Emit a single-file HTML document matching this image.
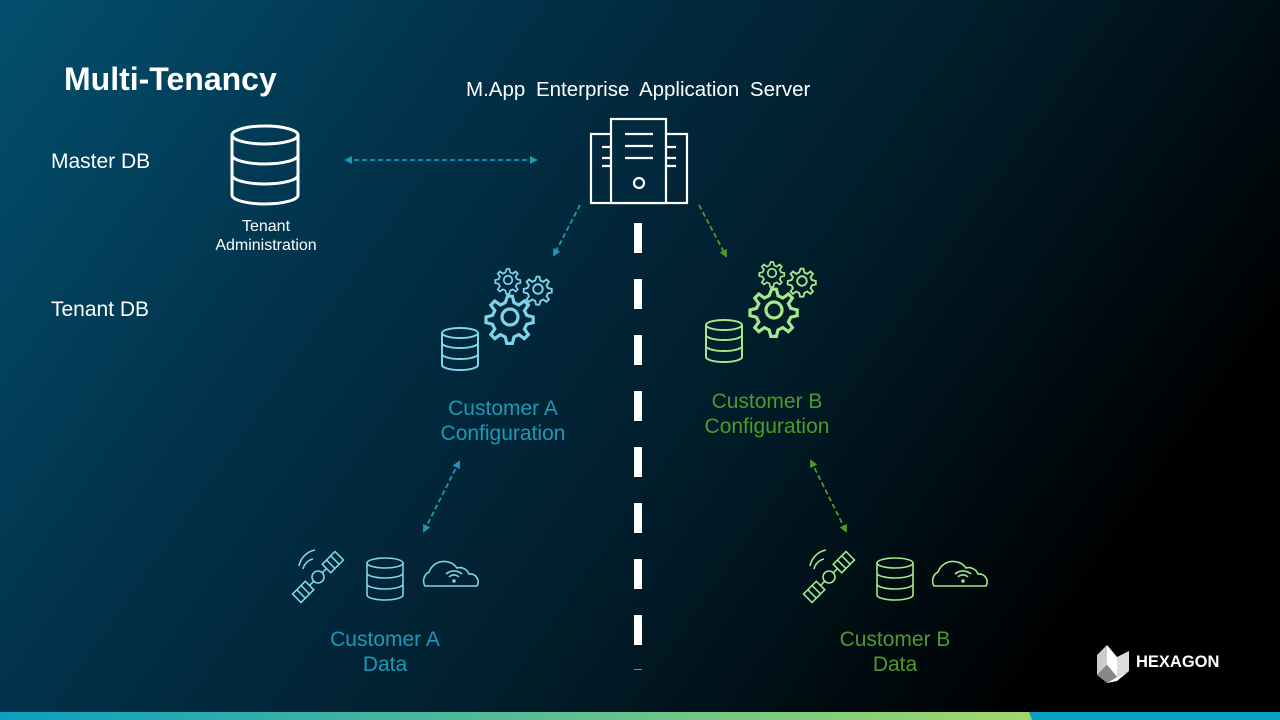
<!DOCTYPE html>
<html><head><meta charset="utf-8"><style>
body{margin:0;width:1280px;height:720px;overflow:hidden;font-family:"Liberation Sans",sans-serif}
.bg{position:absolute;inset:0;background:linear-gradient(125deg,#03506e 0%,#023048 30%,#011a26 60%,#000 85%)}
.t{position:absolute;white-space:nowrap}
</style></head><body><div class="bg"></div>
<svg width="1280" height="720" style="position:absolute;left:0;top:0" font-family="Liberation Sans,sans-serif">
<defs>
<marker id="ab" markerWidth="8" markerHeight="8" refX="6" refY="4" orient="auto-start-reverse" markerUnits="userSpaceOnUse"><path d="M0,0 L8,4 L0,8z" fill="#1a9ab8"/></marker>
<marker id="ag" markerWidth="8" markerHeight="8" refX="6" refY="4" orient="auto-start-reverse" markerUnits="userSpaceOnUse"><path d="M0,0 L8,4 L0,8z" fill="#4e9a2a"/></marker>
<g id="gear" fill="none"><circle r="5"/><path d="M0,-13 l3,0 1,4 3,1.5 3.5,-2.5 2.5,2.5 -2.5,3.5 1.5,3 4,1 0,3.5 -4,1 -1.5,3 2.5,3.5 -2.5,2.5 -3.5,-2.5 -3,1.5 -1,4 -3.5,0 -1,-4 -3,-1.5 -3.5,2.5 -2.5,-2.5 2.5,-3.5 -1.5,-3 -4,-1 0,-3.5 4,-1 1.5,-3 -2.5,-3.5 2.5,-2.5 3.5,2.5 3,-1.5z" transform="translate(-1.5,0)"/></g>
</defs>
<linearGradient id="bar" x1="0" x2="1"><stop offset="0" stop-color="#0ca0c0"/><stop offset="1" stop-color="#a2d86a"/></linearGradient>
<rect x="0" y="712" width="1280" height="8" fill="#0a9ec0"/>
<polygon points="0,712 1029,712 1032,720 0,720" fill="url(#bar)"/>
<g fill="#fff"><rect x="634" y="223" width="8" height="30"/><rect x="634" y="279" width="8" height="30"/><rect x="634" y="335" width="8" height="30"/><rect x="634" y="391" width="8" height="30"/><rect x="634" y="447" width="8" height="30"/><rect x="634" y="503" width="8" height="30"/><rect x="634" y="559" width="8" height="30"/><rect x="634" y="615" width="8" height="30"/><rect x="634" y="669" width="8" height="1" opacity=".5"/></g>
<g fill="none" stroke="#fff" stroke-width="2.2">
<rect x="591" y="134" width="96" height="69"/><rect x="611" y="119" width="55" height="84" fill="#022a3e"/>
<path d="M625,134h28M625,146h28M625,158h28M602,147h9M602,158h9M602,166h9M667,147h9M667,158h9M667,166h9"/>
<circle cx="639" cy="183" r="5"/></g>
<g fill="none" stroke="#fff" stroke-width="3"><ellipse cx="265" cy="135" rx="33" ry="9"/><path d="M232,135v60a33,9 0 0 0 66,0v-60M232,155a33,9 0 0 0 66,0M232,175a33,9 0 0 0 66,0"/></g>
<g stroke-width="1.8" stroke-dasharray="5,3" fill="none">
<line x1="346" y1="160" x2="536" y2="160" stroke="#1a9ab8" marker-start="url(#ab)" marker-end="url(#ab)"/>
<line x1="580" y1="205" x2="554" y2="255" stroke="#1a9ab8" marker-end="url(#ab)"/>
<line x1="699" y1="205" x2="726" y2="256" stroke="#4e9a2a" marker-end="url(#ag)"/>
<line x1="459" y1="462" x2="424" y2="531" stroke="#1a9ab8" marker-start="url(#ab)" marker-end="url(#ab)"/>
<line x1="811" y1="461" x2="846" y2="531" stroke="#4e9a2a" marker-start="url(#ag)" marker-end="url(#ag)"/>
</g>
<g stroke="#7fd3ea" stroke-width="2" fill="none">
<ellipse cx="460" cy="333" rx="18" ry="5"/><path d="M442,333v32a18,5 0 0 0 36,0v-32M442,343a18,5 0 0 0 36,0M442,354a18,5 0 0 0 36,0"/>
<use href="#gear" transform="translate(510,317) scale(1.6)"/><use href="#gear" transform="translate(508,280) scale(0.85)"/><use href="#gear" transform="translate(538,289) scale(0.95)"/>
</g>
<g stroke="#a4e88c" stroke-width="2" fill="none">
<ellipse cx="724" cy="325" rx="18" ry="5"/><path d="M706,325v32a18,5 0 0 0 36,0v-32M706,335a18,5 0 0 0 36,0M706,346a18,5 0 0 0 36,0"/>
<use href="#gear" transform="translate(774,310) scale(1.6)"/><use href="#gear" transform="translate(772,273) scale(0.85)"/><use href="#gear" transform="translate(802,281) scale(0.95)"/>
</g>
<g stroke="#7fd3ea" stroke-width="1.6" fill="none">
<g transform="translate(318,577) rotate(-45)"><rect x="-30" y="-6" width="18" height="12"/><rect x="12" y="-6" width="18" height="12"/><circle r="6"/><path d="M-12,0h6M6,0h6M-24,-6v12M-18,-6v12M18,-6v12M24,-6v12"/></g>
<path d="M299,566a20,20 0 0 1 16,-16M303,569a13,13 0 0 1 10,-10"/>
<ellipse cx="385" cy="563" rx="18" ry="5"/><path d="M367,563v32a18,5 0 0 0 36,0v-32M367,573a18,5 0 0 0 36,0M367,584a18,5 0 0 0 36,0"/>
<path d="M425,586h52a8,8 0 0 0 -8,-12a10,10 0 0 0 -12,-6a16,16 0 0 0 -28,4a10,10 0 0 0 -4,14z"/>
<path d="M446,574a12,12 0 0 1 16,0M449,577a7,7 0 0 1 10,0"/><circle cx="454" cy="581" r="1"/>
</g>
<g stroke="#a4e88c" stroke-width="1.6" fill="none">
<g transform="translate(829,577) rotate(-45)"><rect x="-30" y="-6" width="18" height="12"/><rect x="12" y="-6" width="18" height="12"/><circle r="6"/><path d="M-12,0h6M6,0h6M-24,-6v12M-18,-6v12M18,-6v12M24,-6v12"/></g>
<path d="M810,566a20,20 0 0 1 16,-16M814,569a13,13 0 0 1 10,-10"/>
<ellipse cx="895" cy="563" rx="18" ry="5"/><path d="M877,563v32a18,5 0 0 0 36,0v-32M877,573a18,5 0 0 0 36,0M877,584a18,5 0 0 0 36,0"/>
<path d="M934,586h52a8,8 0 0 0 -8,-12a10,10 0 0 0 -12,-6a16,16 0 0 0 -28,4a10,10 0 0 0 -4,14z"/>
<path d="M955,574a12,12 0 0 1 16,0M958,577a7,7 0 0 1 10,0"/><circle cx="963" cy="581" r="1"/>
</g>
<g transform="translate(1097,645)"><polygon points="0,10 10,0 10,20 0,30" fill="#ccc"/><polygon points="10,0 10,20 20,32 20,12" fill="#fff"/><polygon points="0,30 10,20 20,32 10,38" fill="#888"/><polygon points="20,12 32,6 32,26 20,32" fill="#ddd"/><polygon points="10,38 20,32 32,26 20,36" fill="#fff"/></g>
</svg>
<div class="t" style="left:64px;top:61px;font-size:32px;font-weight:bold;color:#fff">Multi-Tenancy</div>
<div class="t" style="left:466px;top:78px;font-size:20.5px;color:#fff;word-spacing:5px">M.App Enterprise Application Server</div>
<div class="t" style="left:51px;top:150px;font-size:21px;color:#fff">Master DB</div>
<div class="t" style="left:51px;top:298px;font-size:21px;color:#fff">Tenant DB</div>
<div class="t" style="left:196px;top:217px;width:140px;text-align:center;font-size:16px;line-height:19px;color:#fff">Tenant<br>Administration</div>
<div class="t" style="left:403px;top:396px;width:200px;text-align:center;font-size:21px;line-height:25px;color:#1a9ab8">Customer A<br>Configuration</div>
<div class="t" style="left:667px;top:389px;width:200px;text-align:center;font-size:21px;line-height:25px;color:#4e9a2a">Customer B<br>Configuration</div>
<div class="t" style="left:285px;top:627px;width:200px;text-align:center;font-size:21px;line-height:25px;color:#1a9ab8">Customer A<br>Data</div>
<div class="t" style="left:795px;top:627px;width:200px;text-align:center;font-size:21px;line-height:25px;color:#4e9a2a">Customer B<br>Data</div>
<div class="t" style="left:1136px;top:653px;font-size:16.5px;font-weight:bold;color:#fff">HEXAGON</div>
</body></html>
